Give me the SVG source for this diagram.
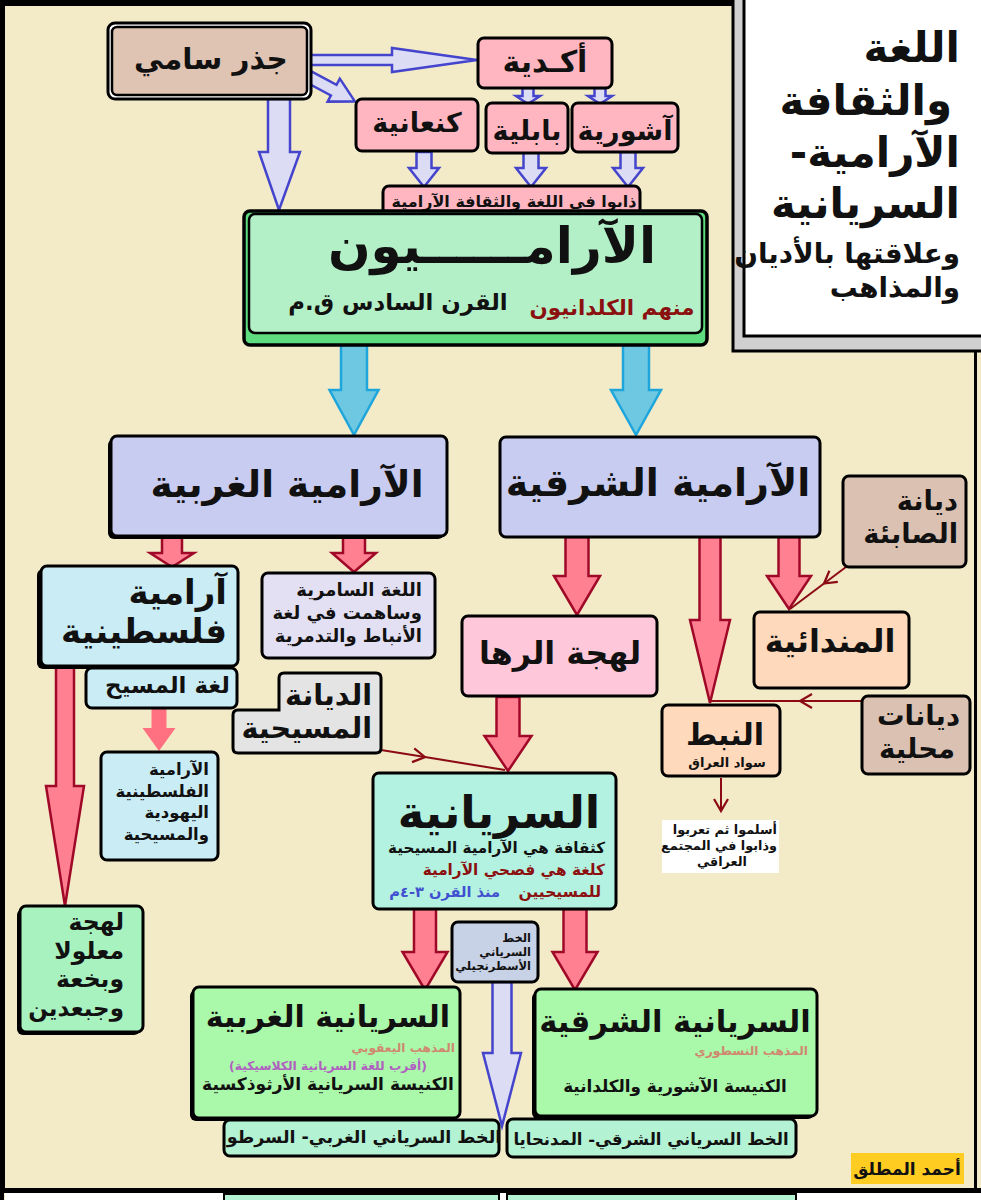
<svg xmlns="http://www.w3.org/2000/svg" width="981" height="1200" viewBox="0 0 981 1200">
<defs>
<style>
.t{font-family:"DejaVu Sans","Noto Sans",sans-serif;font-weight:bold;fill:#111;direction:rtl}
.c{text-anchor:middle}
.r{text-anchor:start}
.box{stroke:#000;stroke-width:3}
.sh{fill:#000}
.red{fill:#ff8090;stroke:#a00828;stroke-width:2.5;stroke-linejoin:miter}
.blue{fill:#dcdcf5;stroke:#4444cc;stroke-width:2.5}
.cyan{fill:#6ec8e2;stroke:#1ea6dc;stroke-width:2.5}
.thin{fill:none;stroke:#8b0a14;stroke-width:2}
.pink{fill:#ffc8da}
.akk{fill:#ffb6c1}
.lav{fill:#c8ccf0}
.lb{fill:#c9ecf5}
.peach{fill:#ffd9bb}
.brown{fill:#dbc1b2}
.grn{fill:#aaf8aa}
.mint{fill:#b3f2d2}
.dred{fill:#8b1010}
.sect{fill:#d08870}
</style>
<marker id="chev" markerUnits="userSpaceOnUse" markerWidth="20" markerHeight="20" viewBox="-14 -10 20 20" refX="0" refY="0" orient="auto" overflow="visible">
<path d="M-12,-7 L0,0 L-12,7" fill="none" stroke="#8b0a14" stroke-width="2.2"/>
</marker>
</defs>

<!-- background and frame -->
<rect x="0" y="0" width="981" height="1200" fill="#f3ebc8"/>
<rect x="0" y="0" width="736" height="6" fill="#000"/>
<rect x="0" y="0" width="5" height="1192" fill="#000"/>
<rect x="974" y="350" width="3" height="842" fill="#000"/>
<rect x="0" y="1188" width="981" height="5" fill="#000"/>
<rect x="5" y="1193" width="976" height="7" fill="#fff"/>
<rect x="0" y="1193" width="4" height="7" fill="#000"/>
<rect x="224" y="1194" width="275" height="10" fill="#b3f2d2" stroke="#000" stroke-width="2"/>
<rect x="507" y="1194" width="289" height="10" fill="#b3f2d2" stroke="#000" stroke-width="2"/>

<!-- title -->
<g id="title">
<rect x="733" y="-5" width="260" height="356" fill="#d0d0d0" stroke="#000" stroke-width="3"/>
<rect x="744" y="-5" width="250" height="341" fill="#fff" stroke="#000" stroke-width="3"/>
<text class="t r" x="960" y="62" font-size="42">اللغة</text>
<text class="t r" x="952" y="115" font-size="42">والثقافة</text>
<text class="t r" x="960" y="167" font-size="42">الآرامية-</text>
<text class="t r" x="960" y="218" font-size="42">السريانية</text>
<text class="t r" x="960" y="263" font-size="27.8">وعلاقتها بالأديان</text>
<text class="t r" x="960" y="297" font-size="27.8">والمذاهب</text>
</g>

<!-- connectors -->
<g id="connectors">
<polygon class="blue" points="310,55 392,55 392,48 477,60 392,72 392,65 310,65"/>
<polygon class="blue" transform="translate(309,77) rotate(28)" points="0,-6 28,-6 28,-13 52,0 28,13 28,6 0,6"/>
<polygon class="blue" points="268,99 290,99 290,152 300,152 279,210 259,152 268,152"/>
<polygon class="blue" points="522.5,88 533.5,88 533.5,96 540,96 528,104 516,96 522.5,96"/>
<polygon class="blue" points="594.5,88 605.5,88 605.5,96 612,96 600,104 588,96 594.5,96"/>
<polygon class="blue" points="416.5,152 431.5,152 431.5,168 439,168 424,187 409,168 416.5,168"/>
<polygon class="blue" points="523.5,152 538.5,152 538.5,168 546,168 531,187 516,168 523.5,168"/>
<polygon class="blue" points="620.5,152 635.5,152 635.5,168 643,168 628,187 613,168 620.5,168"/>

<polygon class="cyan" points="341,345 367,345 367,390 378.5,390 354,435 329.5,390 341,390"/>
<polygon class="cyan" points="623,345 649,345 649,390 661,390 636,435 611,390 623,390"/>

<polygon class="red" points="162,537 182,537 182,553 194,553 172,567 150,553 162,553"/>
<polygon class="red" points="343,537 365,537 365,553 376,553 354,572 332,553 343,553"/>
<polygon class="red" points="565.5,537 588.5,537 588.5,576 600,576 577,615 554,576 565.5,576"/>
<polygon class="red" points="699.5,537 720.5,537 720.5,620 730,620 710,703 690,620 699.5,620"/>
<polygon class="red" points="778.5,537 799.5,537 799.5,576 811,576 789,609 767,576 778.5,576"/>
<polygon class="red" points="496.5,697 519.5,697 519.5,736 531.5,736 508,771 484.5,736 496.5,736"/>
<polygon class="red" points="56,667 74,667 74,786 84,786 65,906 46,786 56,786"/>
<polygon class="red" points="414,909 436,909 436,952 447.5,952 425,990 402.5,952 414,952"/>
<polygon class="red" points="563.5,909 586.5,909 586.5,952 597.5,952 575,990 552.5,952 563.5,952"/>
<polygon fill="#ff7080" points="151.5,708 166.5,708 166.5,728 175.5,728 159,751 142.5,728 151.5,728"/>

<polygon class="blue" points="492.5,982 511.5,982 511.5,1053 521,1053 502,1126 483,1053 492.5,1053"/>

<polyline class="thin" points="381,750 425,757.1 505,770" marker-mid="url(#chev)"/>
<polyline class="thin" points="846,567 824,583.5 790,609" marker-mid="url(#chev)"/>
<polyline class="thin" points="862,701 800,701 711,701" marker-mid="url(#chev)"/>
<line class="thin" x1="721" y1="778" x2="721" y2="811" marker-end="url(#chev)"/>
</g>

<!-- nodes -->
<g id="n-jdr">
<rect x="108" y="23" width="203" height="76" rx="7" fill="#fff" stroke="#000" stroke-width="3"/>
<rect x="112" y="27" width="195" height="68" rx="5" fill="#dfc3b3" stroke="#000" stroke-width="2.5"/>
<text class="t c" x="211" y="69" font-size="29.5">جذر سامي</text>
</g>
<g id="n-akkadian">
<rect class="box akk" x="478" y="38" width="134" height="50" rx="6"/>
<text class="t c" x="545" y="72" font-size="30">أكـدية</text>
</g>
<g id="n-canaanite">
<rect class="box akk" x="356" y="99" width="122" height="52" rx="6"/>
<text class="t c" x="417" y="132" font-size="27">كنعانية</text>
</g>
<g id="n-babylonian">
<rect class="box akk" x="486" y="103" width="82" height="50" rx="6"/>
<text class="t c" x="527" y="140" font-size="27">بابلية</text>
</g>
<g id="n-assyrian">
<rect class="box akk" x="572" y="103" width="106" height="49" rx="6"/>
<text class="t c" x="625" y="140" font-size="27">آشورية</text>
</g>
<g id="n-dissolved">
<rect class="box akk" x="383" y="186" width="257" height="34" rx="6"/>
<text class="t c" x="514" y="207" font-size="16">ذابوا فى اللغة والثقافة الآرامية</text>
</g>
<g id="n-aramaeans">
<rect x="244" y="211" width="463" height="134" rx="6" fill="#5fdc80" stroke="#000" stroke-width="3.5"/>
<rect x="249" y="214" width="453" height="119" rx="6" fill="#b3f0c8" stroke="#000" stroke-width="2.5"/>
<text class="t c" x="492" y="263" font-size="50">الآرامــــــيون</text>
<text class="t c" x="398" y="310" font-size="22.8">القرن السادس ق.م</text>
<text class="t c dred" x="612" y="315" font-size="21.4">منهم الكلدانيون</text>
</g>
<g id="n-western-aramaic">
<rect class="sh" x="108" y="439" width="336" height="100" rx="6"/>
<rect class="box lav" x="111" y="436" width="336" height="100" rx="6"/>
<text class="t c" x="287" y="497" font-size="37.5">الآرامية الغربية</text>
</g>
<g id="n-eastern-aramaic">
<rect class="box lav" x="500" y="437" width="320" height="100" rx="6"/>
<text class="t c" x="658" y="496" font-size="38">الآرامية الشرقية</text>
</g>
<g id="n-palestinian">
<rect class="sh" x="37" y="569" width="197" height="100" rx="6"/>
<rect class="box lb" x="41" y="566" width="197" height="100" rx="6"/>
<text class="t r" x="227" y="604" font-size="34">آرامية</text>
<text class="t r" x="227" y="643" font-size="34">فلسطينية</text>
</g>
<g id="n-samaritan">
<rect class="box" x="262" y="573" width="173" height="85" rx="6" fill="#e4e0f4"/>
<text class="t r" x="422" y="596" font-size="18">اللغة السامرية</text>
<text class="t r" x="422" y="619" font-size="18">وساهمت في لغة</text>
<text class="t r" x="422" y="642" font-size="18">الأنباط والتدمرية</text>
</g>
<g id="n-christ-lang">
<rect class="box lb" x="86" y="668" width="151" height="40" rx="6"/>
<text class="t r" x="230" y="693" font-size="23">لغة المسيح</text>
</g>
<g id="n-pal-jewish">
<rect class="box lb" x="101" y="752" width="117" height="108" rx="6"/>
<text class="t r" x="209" y="775" font-size="16.5">الآرامية</text>
<text class="t r" x="209" y="797" font-size="16.5">الفلسطينية</text>
<text class="t r" x="209" y="818" font-size="16.5">اليهودية</text>
<text class="t r" x="209" y="840" font-size="16.5">والمسيحية</text>
</g>
<g id="n-maaloula">
<rect class="sh" x="17" y="909" width="123" height="126" rx="6"/>
<rect class="box" x="20" y="906" width="123" height="126" rx="6" fill="#a8f2c0"/>
<text class="t r" x="124" y="930" font-size="23.5">لهجة</text>
<text class="t r" x="124" y="959" font-size="23.5">معلولا</text>
<text class="t r" x="124" y="987" font-size="23.5">وبخعة</text>
<text class="t r" x="124" y="1016" font-size="23">وجبعدين</text>
</g>
<g id="n-christianity">
<path class="box" fill="#e4e4e4" d="M279,678 Q279,673 284,673 H376 Q381,673 381,678 V748 Q381,753 376,753 H238 Q233,753 233,748 V715 Q233,710 238,710 H279 Z"/>
<text class="t r" x="372" y="705" font-size="28.7">الديانة</text>
<text class="t r" x="372" y="738" font-size="28.7">المسيحية</text>
</g>
<g id="n-ruha">
<rect class="box pink" x="462" y="616" width="195" height="80" rx="6"/>
<text class="t c" x="560" y="664" font-size="31.7">لهجة الرها</text>
</g>
<g id="n-mandaic">
<rect class="box peach" x="754" y="612" width="155" height="76" rx="6"/>
<text class="t c" x="830" y="652" font-size="31.8">المندائية</text>
</g>
<g id="n-sabians">
<rect class="box brown" x="843" y="476" width="123" height="91" rx="6"/>
<text class="t r" x="958" y="510" font-size="27.3">ديانة</text>
<text class="t r" x="958" y="543" font-size="27.3">الصابئة</text>
</g>
<g id="n-local">
<rect class="box brown" x="862" y="696" width="108" height="78" rx="6"/>
<text class="t r" x="960" y="725" font-size="27.5">ديانات</text>
<text class="t r" x="955" y="758" font-size="27.5">محلية</text>
</g>
<g id="n-nabat">
<rect class="box peach" x="662" y="705" width="118" height="71" rx="6"/>
<text class="t c" x="725" y="745" font-size="30">النبط</text>
<text class="t c" x="727" y="767" font-size="13">سواد العراق</text>
</g>
<g id="n-islamized">
<rect x="662" y="820" width="117" height="53" fill="#fff"/>
<text class="t r" x="777" y="834" font-size="12.8">أسلموا ثم تعربوا</text>
<text class="t r" x="777" y="850" font-size="12.8">وذابوا في المجتمع</text>
<text class="t r" x="747" y="866" font-size="12.8">العراقي</text>
</g>
<g id="n-syriac">
<rect class="box" x="373" y="773" width="243" height="136" rx="6" fill="#b3f2e0"/>
<text class="t c" x="499" y="828" font-size="45">السريانية</text>
<text class="t r" x="605" y="853" font-size="15.2">كثقافة هي الآرامية المسيحية</text>
<text class="t r dred" x="605" y="875" font-size="15.3">كلغة هي فصحي الآرامية</text>
<text class="t r dred" x="601" y="897" font-size="15.5">للمسيحيين</text>
<text class="t r" x="500" y="897" font-size="14.6" style="fill:#4050d0">منذ القرن ٣-٤م</text>
</g>
<g id="n-estrangela">
<rect class="box" x="452" y="922" width="86" height="60" rx="6" fill="#c8d2e6"/>
<text class="t r" x="531" y="942" font-size="11.5">الخط</text>
<text class="t r" x="531" y="956" font-size="11.5">السرياني</text>
<text class="t r" x="531" y="970" font-size="11.5">الأسطرنجيلي</text>
</g>
<g id="n-western-syriac">
<rect class="sh" x="190" y="990" width="267" height="131" rx="6"/>
<rect class="box grn" x="193" y="987" width="267" height="131" rx="6"/>
<text class="t c" x="328" y="1027" font-size="30">السريانية الغربية</text>
<text class="t r sect" x="455" y="1052" font-size="12.2">المذهب اليعقوبي</text>
<text class="t c" x="328" y="1070" font-size="12.3" style="fill:#b060c0">(أقرب للغة السريانية الكلاسيكية)</text>
<text class="t c" x="328" y="1090" font-size="17.1">الكنيسة السريانية الأرثوذكسية</text>
</g>
<g id="n-eastern-syriac">
<rect class="sh" x="532" y="992" width="282" height="127" rx="6"/>
<rect class="box grn" x="535" y="989" width="282" height="127" rx="6"/>
<text class="t c" x="675" y="1032" font-size="30.6">السريانية الشرقية</text>
<text class="t r sect" x="808" y="1055" font-size="12.2">المذهب النسطوري</text>
<text class="t c" x="675" y="1092" font-size="16.8">الكنيسة الآشورية والكلدانية</text>
</g>
<g id="n-serto">
<rect class="box mint" x="224" y="1120" width="275" height="36" rx="6"/>
<text class="t c" x="364" y="1143" font-size="17.5">الخط السرياني الغربي- السرطو</text>
</g>
<g id="n-madnhaya">
<rect class="box mint" x="507" y="1119" width="289" height="38" rx="6"/>
<text class="t c" x="651" y="1145" font-size="16.5">الخط السرياني الشرقي- المدنحايا</text>
</g>
<g id="n-author">
<rect x="851" y="1153" width="113" height="31" fill="#ffcc22"/>
<text class="t c" x="907" y="1175" font-size="17">أحمد المطلق</text>
</g>
</svg>
